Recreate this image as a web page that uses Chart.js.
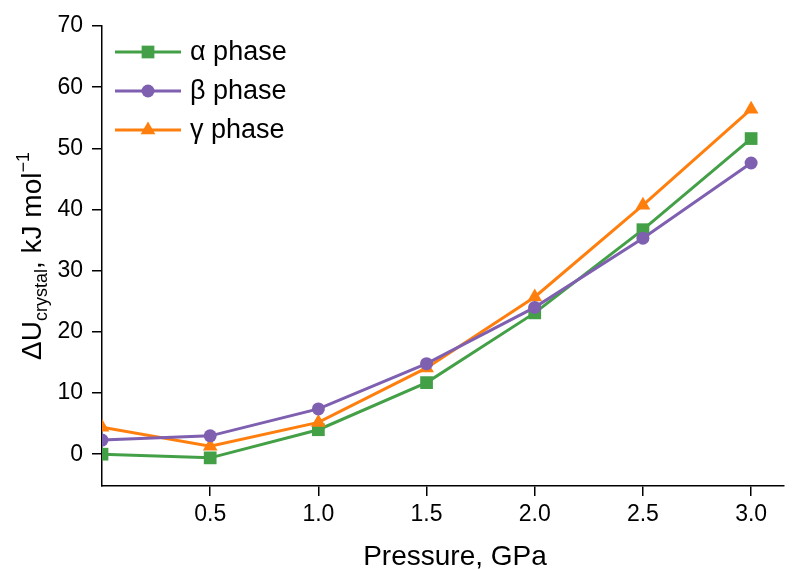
<!DOCTYPE html>
<html>
<head>
<meta charset="utf-8">
<script src="https://cdn.jsdelivr.net/npm/chart.js@4"></script>
<style>
html, body { margin: 0; padding: 0; background: #fff; }
</style>
</head>
<body>
<canvas id="chart" width="793" height="570"></canvas>
<script>
const pressure = [0, 0.5, 1.0, 1.5, 2.0, 2.5, 3.0];
const alphaPhase = [0.0, -0.6, 4.0, 11.7, 23.1, 36.7, 51.6];
const betaPhase = [2.3, 3.0, 7.4, 14.8, 24.0, 35.3, 47.6];
const gammaPhase = [4.4, 1.3, 5.2, 14.1, 25.7, 40.7, 56.4];
const seriesNames = ['α phase', 'β phase', 'γ phase'];
const xTicks = [0.5, 1.0, 1.5, 2.0, 2.5, 3.0];
const yTicks = [0, 10, 20, 30, 40, 50, 60, 70];

const FONT = '"Liberation Sans", Arial, sans-serif';
const GREEN = '#43a047';
const PURPLE = '#7e5fb0';
const ORANGE = '#ff7f0e';

function toPoints(ys) {
    return pressure.map((x, i) => ({ x: x, y: ys[i] }));
}

function makeSet(label, ys, color, style, radius, order) {
    return {
        label: label,
        data: toPoints(ys),
        borderColor: color,
        backgroundColor: color,
        borderWidth: 3,
        pointStyle: style,
        pointRadius: radius,
        pointBorderWidth: 0,
        pointBackgroundColor: color,
        tension: 0,
        order: order
    };
}

// legend drawn by hand so each entry shows line + marker
const legendPlugin = {
    id: 'lineLegend',
    afterDraw(chart) {
        const ctx = chart.ctx;
        const rows = [52, 91, 130];
        chart.data.datasets.forEach((ds, i) => {
            const y = rows[i];
            ctx.save();
            ctx.strokeStyle = ds.borderColor;
            ctx.lineWidth = 3;
            ctx.beginPath();
            ctx.moveTo(115, y);
            ctx.lineTo(181, y);
            ctx.stroke();
            ctx.fillStyle = ds.borderColor;
            Chart.helpers.drawPoint(ctx, {
                pointStyle: ds.pointStyle,
                radius: ds.pointRadius,
                rotation: 0,
                borderWidth: 0
            }, 148, y);
            ctx.fillStyle = '#000';
            ctx.font = '27px ' + FONT;
            ctx.textBaseline = 'middle';
            ctx.textAlign = 'left';
            ctx.fillText(ds.label, 190, y + 1);
            ctx.restore();
        });
    }
};

// axis titles with sub/superscripts
const titlePlugin = {
    id: 'axisTitles',
    afterDraw(chart) {
        const ctx = chart.ctx;
        ctx.save();
        ctx.fillStyle = '#000';
        ctx.textBaseline = 'alphabetic';
        ctx.font = '28px ' + FONT;
        ctx.textAlign = 'center';
        ctx.fillText('Pressure, GPa', 455, 565);

        const parts = [
            { t: 'ΔU', size: 28, dy: 0 },
            { t: 'crystal', size: 18, dy: 6 },
            { t: ', kJ mol', size: 28, dy: 0 },
            { t: '−1', size: 18, dy: -12 }
        ];
        let total = 0;
        parts.forEach(p => {
            ctx.font = p.size + 'px ' + FONT;
            p.w = ctx.measureText(p.t).width;
            total += p.w;
        });
        ctx.translate(41, 256);
        ctx.rotate(-Math.PI / 2);
        ctx.textAlign = 'left';
        let x = -total / 2;
        parts.forEach(p => {
            ctx.font = p.size + 'px ' + FONT;
            ctx.fillText(p.t, x, p.dy);
            x += p.w;
        });
        ctx.restore();
    }
};

const ctx = document.getElementById('chart').getContext('2d');
new Chart(ctx, {
    type: 'line',
    data: {
        datasets: [
            makeSet(seriesNames[0], alphaPhase, GREEN, 'rect', 9, 2),
            makeSet(seriesNames[1], betaPhase, PURPLE, 'circle', 6.5, 0),
            makeSet(seriesNames[2], gammaPhase, ORANGE, 'triangle', 8.5, 1)
        ]
    },
    options: {
        responsive: false,
        animation: false,
        devicePixelRatio: 1,
        layout: { padding: { left: 0, right: 0, top: 26, bottom: 0 } },
        plugins: {
            legend: { display: false },
            tooltip: { enabled: false }
        },
        scales: {
            x: {
                type: 'linear',
                min: 0,
                max: 3.152,
                afterBuildTicks: s => { s.ticks = xTicks.map(v => ({ value: v })); },
                afterFit: s => { s.height = 84; },
                ticks: {
                    color: '#000',
                    font: { family: FONT, size: 23 },
                    padding: 5,
                    maxRotation: 0,
                    autoSkip: false,
                    callback: v => v.toFixed(1)
                },
                grid: { drawOnChartArea: false, tickLength: 10, color: '#000', lineWidth: 1.5 },
                border: { color: '#000', width: 1.5 }
            },
            y: {
                min: -5.2,
                max: 70,
                afterBuildTicks: s => { s.ticks = yTicks.map(v => ({ value: v })); },
                afterFit: s => { s.width = 102; },
                ticks: {
                    color: '#000',
                    font: { family: FONT, size: 23 },
                    padding: 9,
                    autoSkip: false
                },
                grid: { drawOnChartArea: false, tickLength: 10, color: '#000', lineWidth: 1.5 },
                border: { color: '#000', width: 1.5 }
            }
        }
    },
    plugins: [legendPlugin, titlePlugin]
});
</script>
</body>
</html>
